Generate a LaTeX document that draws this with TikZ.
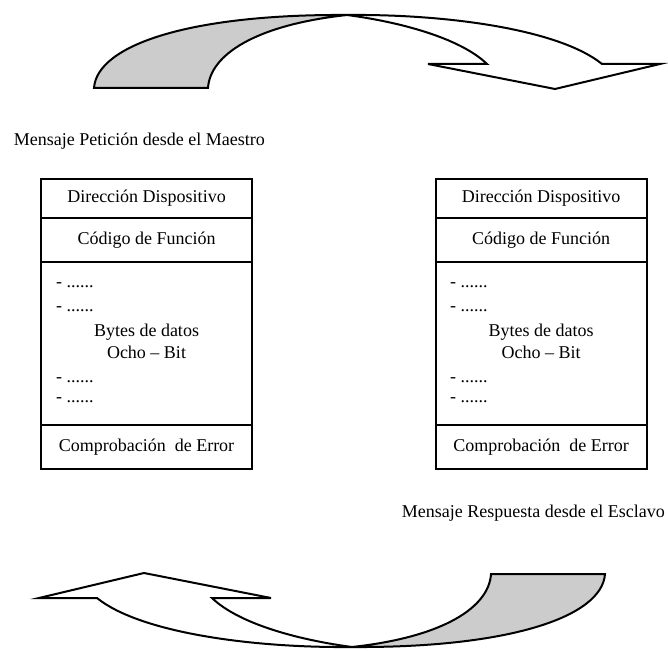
\documentclass[tikz,border=0pt]{standalone}
\usepackage{fontspec}
\setmainfont{Liberation Serif}
\usepackage{tikz}
\usetikzlibrary{positioning}
\definecolor{grisflecha}{RGB}{204,204,204}

\begin{document}
\begin{tikzpicture}[x=1pt,y=1pt]
    \tikzstyle{campo}=[draw,line width=2pt,minimum width=211pt,inner sep=0pt,outer sep=0pt,font=\fontsize{18}{21}\selectfont]
    \tikzstyle{texto}=[inner sep=0pt,font=\fontsize{18}{21}\selectfont]
    \tikzstyle{linea}=[texto,anchor=base west]
    \tikzstyle{dato}=[texto,anchor=base]
    \tikzstyle{borde}=[draw,line width=2pt]
    \tikzset{flecha/.pic={
        % mitad gris, sube hasta el vertice
        \path[borde,fill=grisflecha] (94,562) -- (208,562)
            .. controls (210,595) and (255,625) .. (347,635)
            .. controls (190,636) and (97,605) .. (94,562) -- cycle;
        % mitad blanca con la punta
        \path[borde,fill=white] (347,635)
            .. controls (450,636) and (560,620) .. (602,586)
            -- (660,586) -- (555,561) -- (428,586) -- (487,586)
            .. controls (460,612) and (400,628) .. (347,635) -- cycle;
    }}

    \useasboundingbox (0,0) rectangle (668,650);

    % flechas de ida y de vuelta
    \pic at (0,0) {flecha};
    \pic[rotate=180] at (699,638) {flecha};

    \node[texto,anchor=base east] (peticion) at (265,504) {Mensaje Petición desde el Maestro};
    \node[texto,anchor=base east] (respuesta) at (665,132) {Mensaje Respuesta desde el Esclavo};

    % trama del maestro
    \node[campo,minimum height=39pt] (dirM) at (146.5,451.5) {Dirección Dispositivo};
    \node[campo,minimum height=44pt,below=0pt of dirM] (funM) {Código de Función};
    \node[campo,minimum height=163pt,below=0pt of funM] (datM) {};
    \node[campo,minimum height=44pt,below=0pt of datM] (errM) {Comprobación\ \ de Error};

    \node[linea] (m1) at (56,362) {- ......};
    \node[linea] (m2) at (56,338) {- ......};
    \node[dato] (m3) at (146.5,313) {Bytes de datos};
    \node[dato] (m4) at (146.5,291) {Ocho – Bit};
    \node[linea] (m5) at (56,267) {- ......};
    \node[linea] (m6) at (56,247) {- ......};

    % trama del esclavo
    \node[campo,minimum height=39pt] (dirE) at (541,451.5) {Dirección Dispositivo};
    \node[campo,minimum height=44pt,below=0pt of dirE] (funE) {Código de Función};
    \node[campo,minimum height=163pt,below=0pt of funE] (datE) {};
    \node[campo,minimum height=44pt,below=0pt of datE] (errE) {Comprobación\ \ de Error};

    \node[linea] (e1) at (450,362) {- ......};
    \node[linea] (e2) at (450,338) {- ......};
    \node[dato] (e3) at (541,313) {Bytes de datos};
    \node[dato] (e4) at (541,291) {Ocho – Bit};
    \node[linea] (e5) at (450,267) {- ......};
    \node[linea] (e6) at (450,247) {- ......};

\end{tikzpicture}
\end{document}
